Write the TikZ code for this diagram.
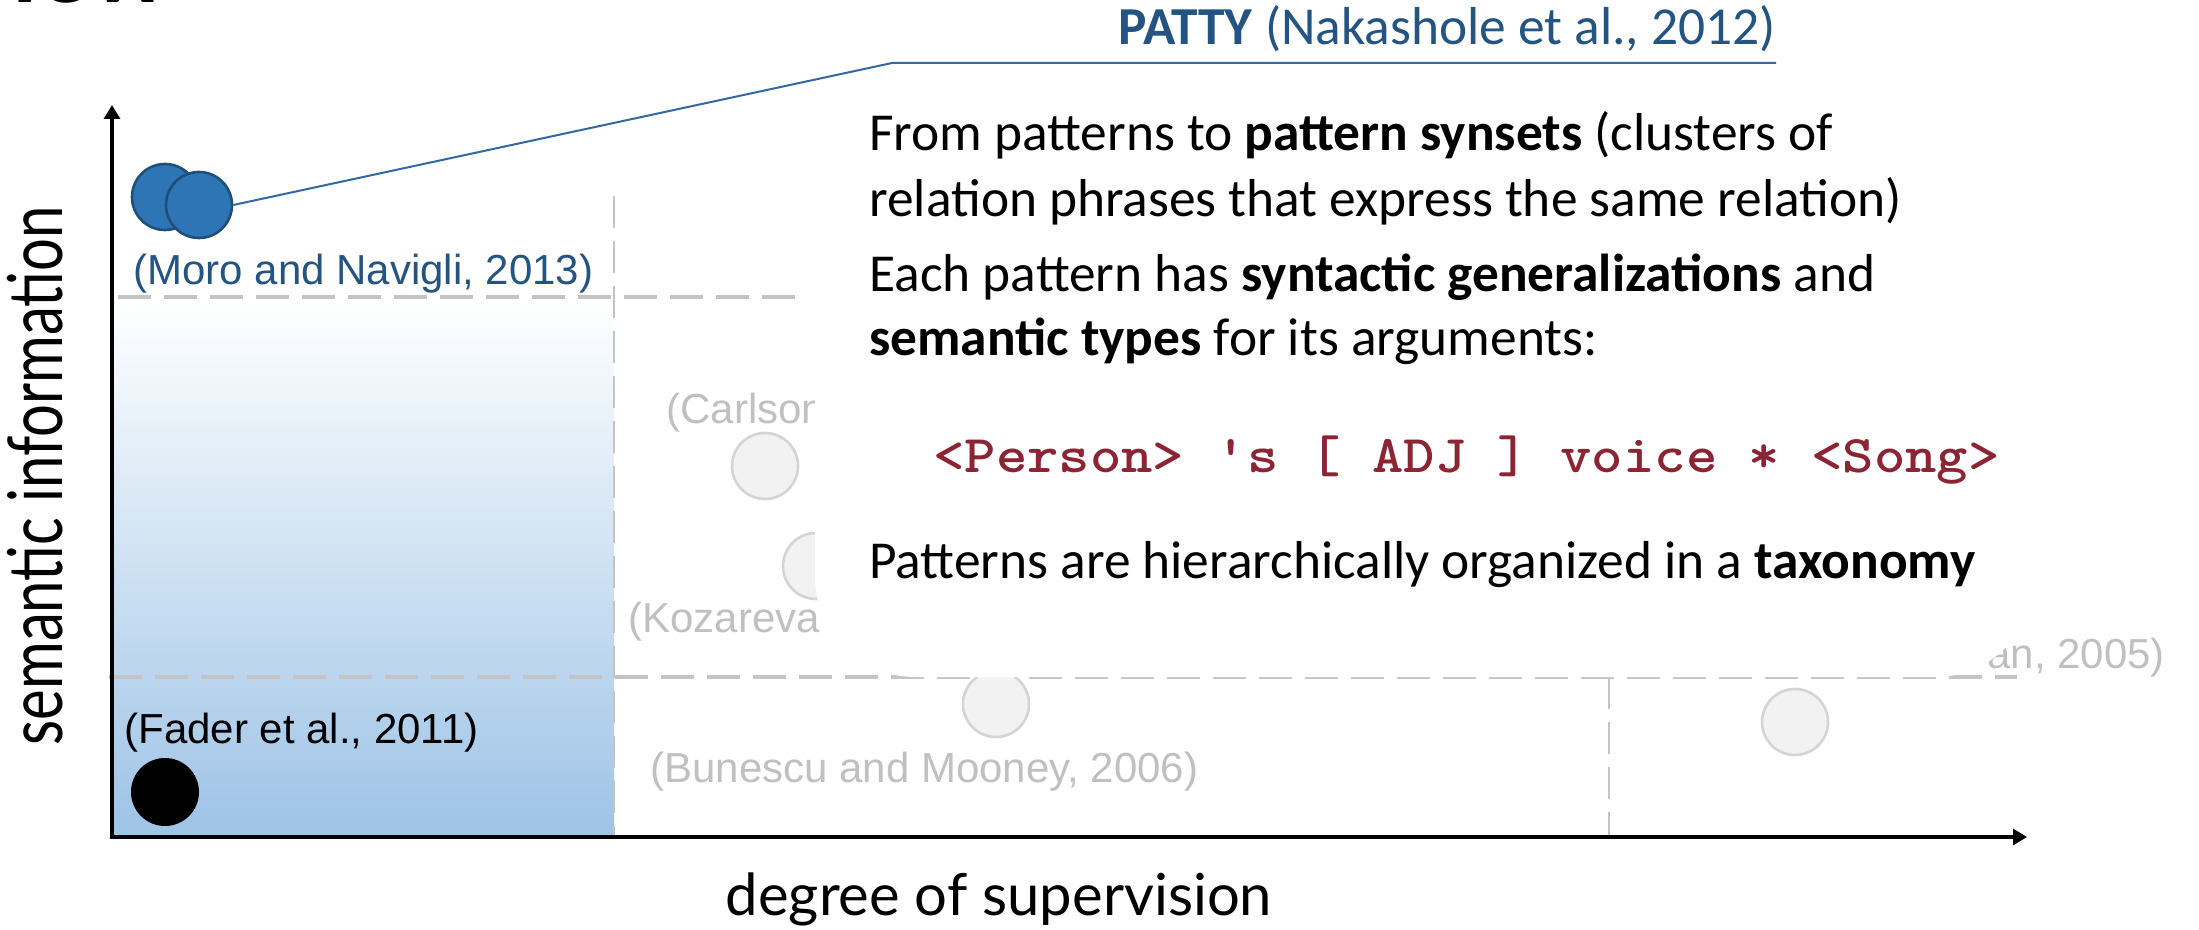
\documentclass[tikz,border=0pt]{standalone}
\usepackage{fontspec}
\setmainfont{Carlito}
\newfontfamily\arialf{Liberation Sans}
\newfontfamily\gillf{Lato}
\usetikzlibrary{arrows.meta}
\definecolor{gradblue}{RGB}{157,195,230}
\definecolor{dashgray}{RGB}{196,196,196}
\definecolor{labgray}{RGB}{192,192,192}
\definecolor{circfill}{RGB}{242,242,242}
\definecolor{circline}{RGB}{212,212,212}
\definecolor{pblue}{RGB}{46,117,182}
\definecolor{pbluedark}{RGB}{31,78,121}
\definecolor{tblue}{RGB}{36,84,130}
\definecolor{lblue}{RGB}{52,104,160}
\definecolor{codered}{RGB}{139,37,52}
\begin{document}
\begin{tikzpicture}[x=0.5pt,y=-0.5pt,
  hdash/.style={draw=dashgray, line width=2.15pt, dash pattern=on 16.5pt off 6.5pt},
  vdash/.style={draw=dashgray, line width=1pt, dash pattern=on 16pt off 6.5pt},
  graydot/.style={circle, minimum size=33pt, inner sep=0pt, fill=circfill, draw=circline, line width=1.3pt},
  bluedot/.style={circle, minimum size=33pt, inner sep=0pt, fill=pblue, draw=pbluedark, line width=1.3pt},
  lab/.style={font=\arialf\fontsize{21pt}{25pt}\selectfont, text=labgray, inner sep=0pt, anchor=base west},
  txt/.style={font=\fontsize{26.7pt}{32pt}\selectfont, inner sep=0pt, anchor=base west},
  axis/.style={line width=1.6pt, {Triangle[length=7pt,width=8pt]}-{Triangle[length=7pt,width=8pt]}},
  axlab/.style={font=\gillf\fontsize{29pt}{34pt}\selectfont, inner sep=0pt}
]
\useasboundingbox (0,0) rectangle (2199,930);
% title fragment
\node[font=\gillf\bfseries\fontsize{50pt}{60pt}\selectfont, anchor=base west, inner sep=0pt] (title) at (12,3) {iew};
% gradient region
\shade[top color=white, bottom color=gradblue] (112,297) rectangle (614,837);
% dashed grid lines
\coordinate (h1a) at (118,297); \coordinate (h1b) at (808,297);
\coordinate (h2a) at (109,677); \coordinate (h2b) at (2017,677);
\coordinate (v1a) at (614,196); \coordinate (v1b) at (614,837);
\coordinate (v2a) at (1609,677); \coordinate (v2b) at (1609,837);
\draw[hdash] (h1a) -- (h1b);
\draw[vdash] (v1a) -- (v1b);
\draw[vdash] (v2a) -- (v2b);
\draw[hdash] (h2a) -- (h2b);
% gray circles and labels
\node[lab] (carlson) at (666,423) {(Carlson};
\node[graydot] (g1) at (765,466) {};
\node[graydot] (g2) at (816,566) {};
\node[lab] (kozareva) at (628,632) {(Kozareva and};
\node[graydot] (g3) at (996,704) {};
\node[graydot] (g4) at (1795,722) {};
\node[lab] (bunescu) at (650,782) {(Bunescu and Mooney, 2006)};
\node[lab] (pantel) at (1987,668) {an, 2005)};
% white box over the text
\fill[white, rounded corners=50pt] (815,95) rectangle (2035,677);
% axes
\coordinate (O) at (112,837);
\coordinate (ytip) at (112,105);
\coordinate (xtip) at (2027,837);
\draw[axis] (ytip) -- (O) -- (xtip);
% points
\node[circle, minimum size=34pt, inner sep=0pt, fill=black] (fader) at (165,792) {};
\node[lab, text=black] (faderlab) at (124,743) {(Fader et al., 2011)};
\node[bluedot] (b1) at (165,197) {};
\node[bluedot] (b2) at (199,205) {};
\node[lab, text=tblue] (morolab) at (133,285) {(Moro and Navigli, 2013)};
% connector to PATTY
\coordinate (pk) at (892,63);
\coordinate (pe) at (1776,63);
\draw[lblue, line width=1pt] (b2.east) -- (pk) -- (pe);
\node[txt, anchor=base east, text=tblue] (patty) at (1776,45) {\textbf{PATTY} (Nakashole et al., 2012)};
% main text
\node[txt] (l1) at (869,151) {From patterns to \textbf{pattern synsets} (clusters of};
\node[txt] (l2) at (869,217) {relation phrases that express the same relation)};
\node[txt] (l3) at (869,292) {Each pattern has \textbf{syntactic generalizations} and};
\node[txt] (l4) at (869,356) {\textbf{semantic types} for its arguments:};
\node[inner sep=0pt, anchor=base west, text=codered, font=\ttfamily\bfseries\fontsize{26.5pt}{30pt}\selectfont] (code) at (933,472) {\scalebox{1.127}[1]{<Person> 's [ ADJ ] voice * <Song>}};
\node[txt] (l5) at (869,578) {Patterns are hierarchically organized in a \textbf{taxonomy}};
% axis labels
\node[axlab, anchor=base] (xlab) at (999,915) {degree of supervision};
\node[axlab, anchor=base, rotate=90] (ylab) at (62,476) {\scalebox{1}[1.3]{semantic information}};
\end{tikzpicture}
\end{document}
